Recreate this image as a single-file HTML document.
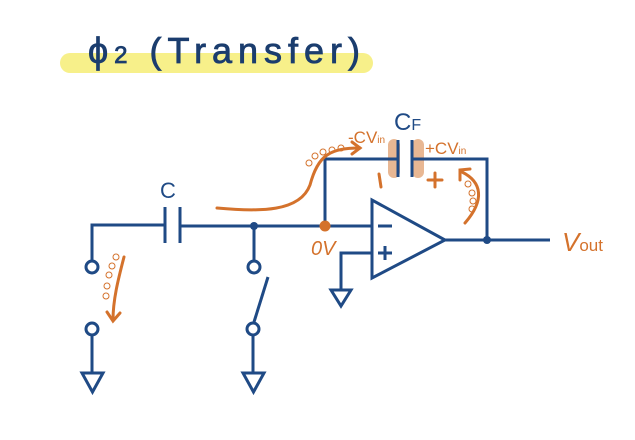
<!DOCTYPE html>
<html><head><meta charset="utf-8"><style>
html,body{margin:0;padding:0;background:#fff;}
svg{display:block;}
</style></head><body>
<svg width="635" height="440" viewBox="0 0 635 440" xmlns="http://www.w3.org/2000/svg">
<rect width="635" height="440" fill="#fff"/>
<rect x="60" y="53" width="313" height="20" rx="10" fill="#f7f08a"/>
<text x="88" y="63" font-family="Liberation Sans, sans-serif" font-size="36" fill="#1b3d6e" stroke="#1b3d6e" stroke-width="0.8" textLength="272" lengthAdjust="spacing">ϕ<tspan font-size="24">2</tspan> (Transfer)</text>
<g stroke="#e8b793" stroke-width="12" stroke-linecap="round">
<line x1="394" y1="145" x2="394" y2="172"/>
<line x1="418" y1="145" x2="418" y2="172"/>
</g>
<g stroke="#1f4a85" stroke-width="3" fill="none" stroke-linejoin="miter">
<polyline points="92,261 92,225 165,225"/>
<line x1="165" y1="207" x2="165" y2="243"/>
<line x1="180" y1="207" x2="180" y2="243"/>
<line x1="180" y1="226" x2="372" y2="226"/>
<polyline points="325,226 325,159 398,159"/>
<line x1="398" y1="140" x2="398" y2="177"/>
<line x1="412" y1="140" x2="412" y2="177"/>
<polyline points="412,159 487,159 487,240"/>
<polygon points="372,200 372,278 445,240"/>
<line x1="445" y1="240" x2="550" y2="240"/>
<polyline points="372,253 341,253 341,290"/>
<polygon points="331,290 351,290 341,306"/>
<circle cx="92" cy="267" r="6"/>
<circle cx="92" cy="329" r="6"/>
<polyline points="92,335 92,373"/>
<polygon points="82,373 103,373 92.5,392"/>
<line x1="254" y1="226" x2="254" y2="261"/>
<circle cx="254" cy="267" r="6"/>
<line x1="268" y1="277" x2="254" y2="322"/>
<circle cx="253" cy="329" r="6"/>
<line x1="253" y1="335" x2="253" y2="373"/>
<polygon points="243,373 264,373 253.5,392"/>
<line x1="378" y1="226" x2="392" y2="226"/>
<line x1="378" y1="253" x2="392" y2="253"/>
<line x1="385" y1="246" x2="385" y2="260"/>
</g>
<circle cx="254" cy="226" r="4" fill="#1f4a85"/>
<circle cx="487" cy="240" r="4" fill="#1f4a85"/>
<circle cx="325" cy="226" r="5.5" fill="#d4722c"/>
<text x="160" y="198" font-family="Liberation Sans, sans-serif" font-size="22" fill="#1f4a85">C</text>
<text x="394" y="130" font-family="Liberation Sans, sans-serif" font-size="24" fill="#1f4a85">C<tspan font-size="16">F</tspan></text>
<g fill="#d4722c" font-family="Liberation Sans, sans-serif">
<text x="348" y="143" font-size="17">-CV<tspan font-size="10">in</tspan></text>
<text x="425" y="154" font-size="17">+CV<tspan font-size="10">in</tspan></text>
<text x="311" y="255" font-size="20" font-style="italic">0V</text>
<text x="562" y="251" font-size="26" font-style="italic">V<tspan font-size="17" font-style="normal">out</tspan></text>
</g>
<g stroke="#d4722c" stroke-width="3" fill="none" stroke-linecap="round">
<line x1="379" y1="174" x2="381" y2="187"/>
<line x1="428" y1="180" x2="442" y2="180"/>
<line x1="435" y1="173" x2="435" y2="187"/>
<path d="M217,208 C260,212 300,212 310,185 C318,155 330,148 360,148"/>
<polyline points="352,142 360,148 352,154"/>
<path d="M465,223 C485,200 482,182 462,172"/>
<polyline points="460,180 460,170 470,169"/>
<path d="M124,257 C118,280 113,300 113,320"/>
<polyline points="107,312 113,321 120,313"/>
</g>
<g stroke="#d4722c" stroke-width="1" fill="none">
<circle cx="309" cy="163" r="3"/><circle cx="315" cy="156" r="3"/><circle cx="323" cy="152" r="3"/><circle cx="332" cy="150" r="3"/><circle cx="341" cy="148" r="3"/>
<circle cx="468" cy="184" r="3"/><circle cx="472" cy="193" r="3"/><circle cx="473" cy="201" r="3"/><circle cx="472" cy="209" r="3"/>
<circle cx="116" cy="257" r="3"/><circle cx="112" cy="266" r="3"/><circle cx="109" cy="275" r="3"/><circle cx="107" cy="286" r="3"/><circle cx="106" cy="296" r="3"/>
</g>
</svg>
</body></html>
